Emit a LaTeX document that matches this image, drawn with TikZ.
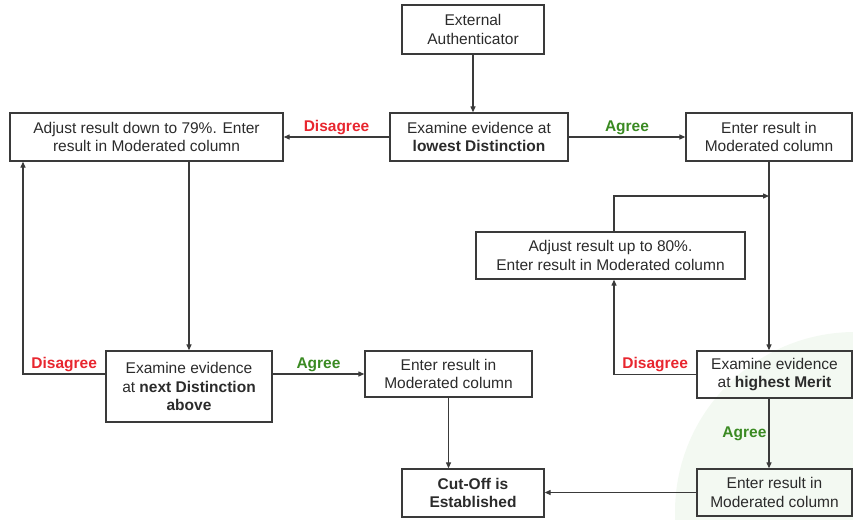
\documentclass[tikz,border=0pt]{standalone}
\usepackage{fontspec}
\setmainfont{Liberation Sans}
\usetikzlibrary{arrows.meta,positioning}
\definecolor{linec}{HTML}{3A3A3A}
\definecolor{textc}{HTML}{2B2B2B}
\definecolor{noc}{HTML}{E8262F}
\definecolor{yesc}{HTML}{3A8A22}
\definecolor{tintc}{HTML}{F3F9F2}
\tikzset{
  ar/.style={-{Triangle[length=6pt,width=5pt]},line width=1.2pt,linec},
  box/.style={draw=linec,line width=1.3pt,align=center,inner sep=0pt,text=textc,font=\fontsize{15.5}{18.5}\selectfont},
  dis/.style={font=\fontsize{15.5}{18.5}\selectfont\bfseries,noc,inner sep=2pt},
  agr/.style={font=\fontsize{15.5}{18.5}\selectfont\bfseries,yesc,inner sep=2pt}
}
\begin{document}
\begin{tikzpicture}[x=1pt,y=-1pt]
\useasboundingbox (0,0) rectangle (853,519);
\begin{scope}
\clip (0,0) rectangle (853,519);
\fill[tintc] (855,512) circle (180pt);
\end{scope}
% boxes
\node[box,minimum width=142,minimum height=49] (ext) at (473,29.5) {External\\Authenticator};
\node[box,minimum width=178,minimum height=48] (low) at (479,137) {Examine evidence at\\\textbf{lowest Distinction}};
\node[box,minimum width=273,minimum height=48] (down) at (146.5,137) {Adjust result down to 79\%. Enter\\result in Moderated column};
\node[box,minimum width=166,minimum height=48] (entA) at (769,137) {Enter result in\\Moderated column};
\node[box,minimum width=269,minimum height=47] (up) at (610.5,255.5) {Adjust result up to 80\%.\\Enter result in Moderated column};
\node[box,minimum width=155,minimum height=47] (merit) at (774.5,374.5) {Examine evidence\\at \textbf{highest Merit}};
\node[box,minimum width=155,minimum height=47] (entC) at (774.5,492.5) {Enter result in\\Moderated column};
\node[box,minimum width=142,minimum height=48] (cut) at (473,493) {\textbf{Cut-Off is}\\\textbf{Established}};
\node[box,minimum width=166,minimum height=71] (next) at (189,386.5) {Examine evidence\\at \textbf{next Distinction}\\\textbf{above}};
\node[box,minimum width=167,minimum height=46] (entB) at (448.5,374) {Enter result in\\Moderated column};
\coordinate (lbend) at (23,374);
\coordinate (rbend) at (614,374.5);
\coordinate (rtop) at (614,196);
% connectors
\draw[ar] (ext.south) -- (ext.south |- low.north);
\draw[ar] (low) -- node[dis,above]{Disagree} (down);
\draw[ar] (low) -- node[agr,above]{Agree} (entA);
\draw[ar] (next.north |- down.south) -- (next.north);
\draw[ar] (next.west |- entB.west) -- node[dis,above]{Disagree} (lbend) -- (lbend |- down.south);
\draw[ar] (next.east |- entB.west) -- node[agr,above]{Agree} (entB.west);
\draw[ar] (entB.south) -- (entB.south |- cut.north);
\draw[ar] (entA.south) -- (entA.south |- merit.north);
\draw[ar] (merit.west) -- node[dis,above]{Disagree} (rbend) -- (rbend |- up.south);
\draw[ar] (rbend |- up.north) -- (rtop) -- (rtop -| entA.south);
\draw[ar] (entA.south |- merit.south) -- node[agr,left]{Agree} (entA.south |- entC.north);
\draw[ar] (entC.west) -- (cut.east |- entC.west);
\end{tikzpicture}
\end{document}
